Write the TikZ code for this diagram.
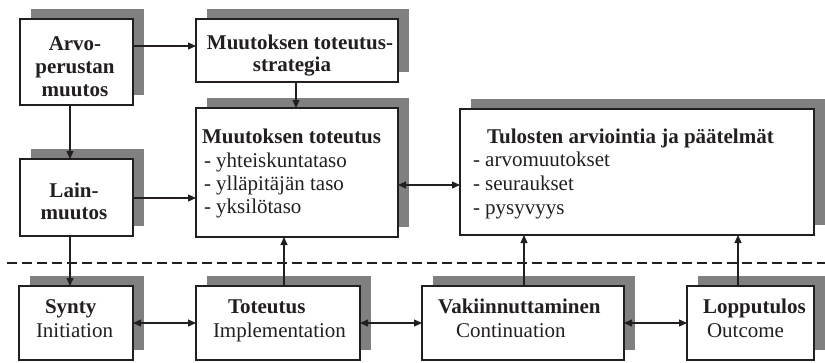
\documentclass[tikz,border=0pt]{standalone}
\usepackage{fontspec}
\setmainfont{Liberation Serif}
\usetikzlibrary{shadows,arrows.meta}
\definecolor{shade}{HTML}{808080}
\definecolor{ink}{HTML}{231F20}
\tikzset{
  box/.style={draw=ink, line width=1.2pt, fill=white, inner sep=0pt, outer sep=0pt,
    general shadow={fill=shade, shadow xshift=11pt, shadow yshift=10pt}},
  txt/.style={inner sep=0pt, outer sep=0pt, text=ink, font=\fontsize{21}{23}\selectfont},
  btxt/.style={txt, font=\fontsize{21}{23}\selectfont\bfseries},
  arr/.style={draw=ink, line width=1.2pt, -{Triangle[length=8pt,width=7pt]}},
  darr/.style={draw=ink, line width=1.2pt, {Triangle[length=8pt,width=7pt]}-{Triangle[length=8pt,width=7pt]}},
  divider/.style={draw=ink, line width=1.2pt, dash pattern=on 10pt off 5pt}
}
\begin{document}
\begin{tikzpicture}[x=1pt,y=-1pt]
\useasboundingbox (0,0) rectangle (825,362);

% upper boxes
\node[box, minimum width=113pt, minimum height=86pt]  (arvo)  at (76.5,62)   {};
\node[box, minimum width=202pt, minimum height=63pt]  (strat) at (297,50.5)  {};
\node[box, minimum width=202pt, minimum height=129pt] (tot)   at (297,172.5) {};
\node[box, minimum width=113pt, minimum height=77pt]  (lain)  at (76.5,197.5) {};
\node[box, minimum width=354pt, minimum height=126pt] (tul)   at (637,172)   {};

% lower boxes
\node[box, minimum width=114pt, minimum height=74pt] (synty) at (76,323)    {};
\node[box, minimum width=164pt, minimum height=74pt] (impl)  at (278,323)   {};
\node[box, minimum width=202pt, minimum height=74pt] (vak)   at (523,323)   {};
\node[box, minimum width=127pt, minimum height=74pt] (lop)   at (750.5,323) {};

% texts of the upper boxes
\node[btxt, anchor=base] (arvo1) at (75,50) {Arvo-};
\node[btxt, anchor=base] (arvo2) at (75,73) {perustan};
\node[btxt, anchor=base] (arvo3) at (75,96) {muutos};

\node[btxt, anchor=base] (strat1) at (300,49) {Muutoksen toteutus-};
\node[btxt, anchor=base] (strat2) at (292,71) {strategia};

\node[btxt, anchor=base] (lain1) at (74,197) {Lain-};
\node[btxt, anchor=base] (lain2) at (74,219) {muutos};

\node[btxt, anchor=base west] (tot1) at (202,143) {Muutoksen toteutus};
\node[txt, anchor=base west]  (tot2) at (204,167) {- yhteiskuntataso};
\node[txt, anchor=base west]  (tot3) at (204,190) {- ylläpitäjän taso};
\node[txt, anchor=base west]  (tot4) at (204,213) {- yksilötaso};

\node[btxt, anchor=base west] (tul1) at (487,143) {Tulosten arviointia ja päätelmät};
\node[txt, anchor=base west]  (tul2) at (473,166) {- arvomuutokset};
\node[txt, anchor=base west]  (tul3) at (473,190) {- seuraukset};
\node[txt, anchor=base west]  (tul4) at (473,214) {- pysyvyys};

% texts of the lower boxes
\node[btxt, anchor=base west] (synty1) at (45,313) {Synty};
\node[txt, anchor=base west]  (synty2) at (36,337) {Initiation};
\node[btxt, anchor=base west] (impl1) at (228,313) {Toteutus};
\node[txt, anchor=base west]  (impl2) at (213,337) {Implementation};
\node[btxt, anchor=base west] (vak1) at (438,313) {Vakiinnuttaminen};
\node[txt, anchor=base west]  (vak2) at (456,337) {Continuation};
\node[btxt, anchor=base west] (lop1) at (703,313) {Lopputulos};
\node[txt, anchor=base west]  (lop2) at (707,337) {Outcome};

% divider between the phases and the contents
\coordinate (dl) at (7,263);
\coordinate (dr) at (825,263);
\draw[divider] (dl) -- (dr);

% connectors
\draw[arr] (arvo.east |- 0,46) -- (strat.west |- 0,46);
\draw[arr] (arvo.south -| 70,0) -- (lain.north -| 70,0);
\draw[arr] (strat.south -| 296,0) -- (tot.north -| 296,0);
\draw[arr] (lain.east |- 0,198) -- (tot.west |- 0,198);
\draw[darr] (tot.east |- 0,185) -- (tul.west |- 0,185);
\draw[arr] (lain.south -| 70,0) -- (synty.north -| 70,0);
\draw[arr] (impl.north -| 284,0) -- (tot.south -| 284,0);
\draw[arr] (vak.north -| 524,0) -- (tul.south -| 524,0);
\draw[arr] (lop.north -| 738,0) -- (tul.south -| 738,0);
\draw[darr] (synty.east) -- (impl.west);
\draw[darr] (impl.east) -- (vak.west);
\draw[darr] (vak.east) -- (lop.west);
\end{tikzpicture}
\end{document}
